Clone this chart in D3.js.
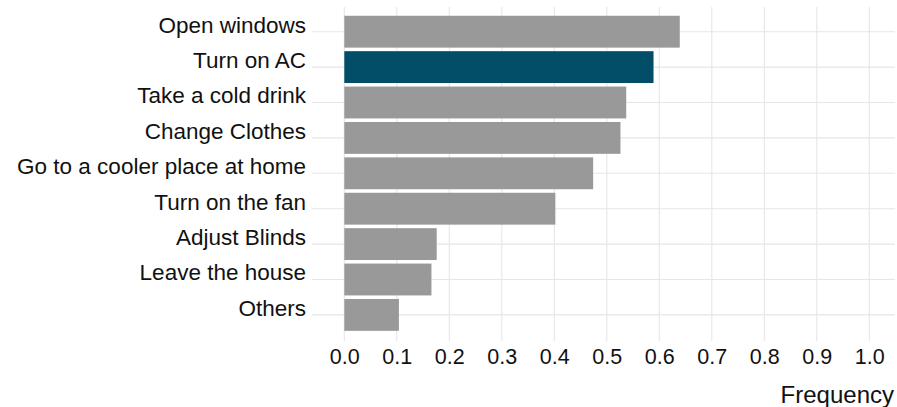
<!DOCTYPE html>
<html>
<head>
<meta charset="utf-8">
<script src="https://cdn.jsdelivr.net/npm/d3@7"></script>
<style>
  html, body { margin: 0; padding: 0; background: #fff; }
  svg { display: block; }
  text { font-family: "Liberation Sans", Arial, sans-serif; fill: #111; }
</style>
</head>
<body>
<svg id="chart" width="897" height="407"></svg>
<script>
const categories = ["Open windows", "Turn on AC", "Take a cold drink", "Change Clothes",
  "Go to a cooler place at home", "Turn on the fan", "Adjust Blinds", "Leave the house", "Others"];
const frequency = [0.639, 0.589, 0.537, 0.526, 0.474, 0.402, 0.176, 0.166, 0.104];
const highlighted = ["Turn on AC"];
const xTicks = [0.0, 0.1, 0.2, 0.3, 0.4, 0.5, 0.6, 0.7, 0.8, 0.9, 1.0];
const xTitle = "Frequency";

const svg = d3.select("#chart");
const x = d3.scaleLinear().domain([0, 1]).range([344.3, 869.3]);
const y = d3.scaleBand().domain(categories).range([14, 332.6]).paddingInner(0.1).paddingOuter(0.05);

const panel = { left: 312, right: 895, top: 7, bottom: 341 };
const grid = "#e6e6e6";

// vertical gridlines
svg.append("g").selectAll("line").data(xTicks).join("line")
  .attr("x1", d => x(d)).attr("x2", d => x(d))
  .attr("y1", panel.top).attr("y2", panel.bottom)
  .attr("stroke", grid).attr("stroke-width", 1.1);

// horizontal gridlines
svg.append("g").selectAll("line").data(categories).join("line")
  .attr("x1", panel.left).attr("x2", panel.right)
  .attr("y1", d => y(d) + y.bandwidth() / 2).attr("y2", d => y(d) + y.bandwidth() / 2)
  .attr("stroke", grid).attr("stroke-width", 1.1);

// bars
svg.append("g").selectAll("rect").data(categories).join("rect")
  .attr("x", x(0))
  .attr("y", d => y(d))
  .attr("width", (d, i) => x(frequency[i]) - x(0))
  .attr("height", y.bandwidth())
  .attr("fill", d => highlighted.includes(d) ? "#024e68" : "#999999");

// y axis labels
const yAxis = d3.axisLeft(y).tickSize(0).tickPadding(0);
const gy = svg.append("g").attr("transform", "translate(306,0)").call(yAxis);
gy.select(".domain").remove();
gy.selectAll("text").attr("font-size", "22.5px").attr("fill", "#111").attr("dy", "0.04em")
  .style("font-family", '"Liberation Sans", Arial, sans-serif');

// x axis labels
const xAxis = d3.axisBottom(x).tickValues(xTicks).tickFormat(d3.format(".1f")).tickSize(0).tickPadding(0);
const gx = svg.append("g").attr("transform", "translate(0,349)").call(xAxis);
gx.select(".domain").remove();
gx.selectAll("text").attr("font-size", "21.5px").attr("fill", "#111")
  .style("font-family", '"Liberation Sans", Arial, sans-serif');

// x title
svg.append("text").attr("x", 894).attr("y", 403).attr("text-anchor", "end")
  .attr("font-size", "24px").text(xTitle);
</script>
</body>
</html>
